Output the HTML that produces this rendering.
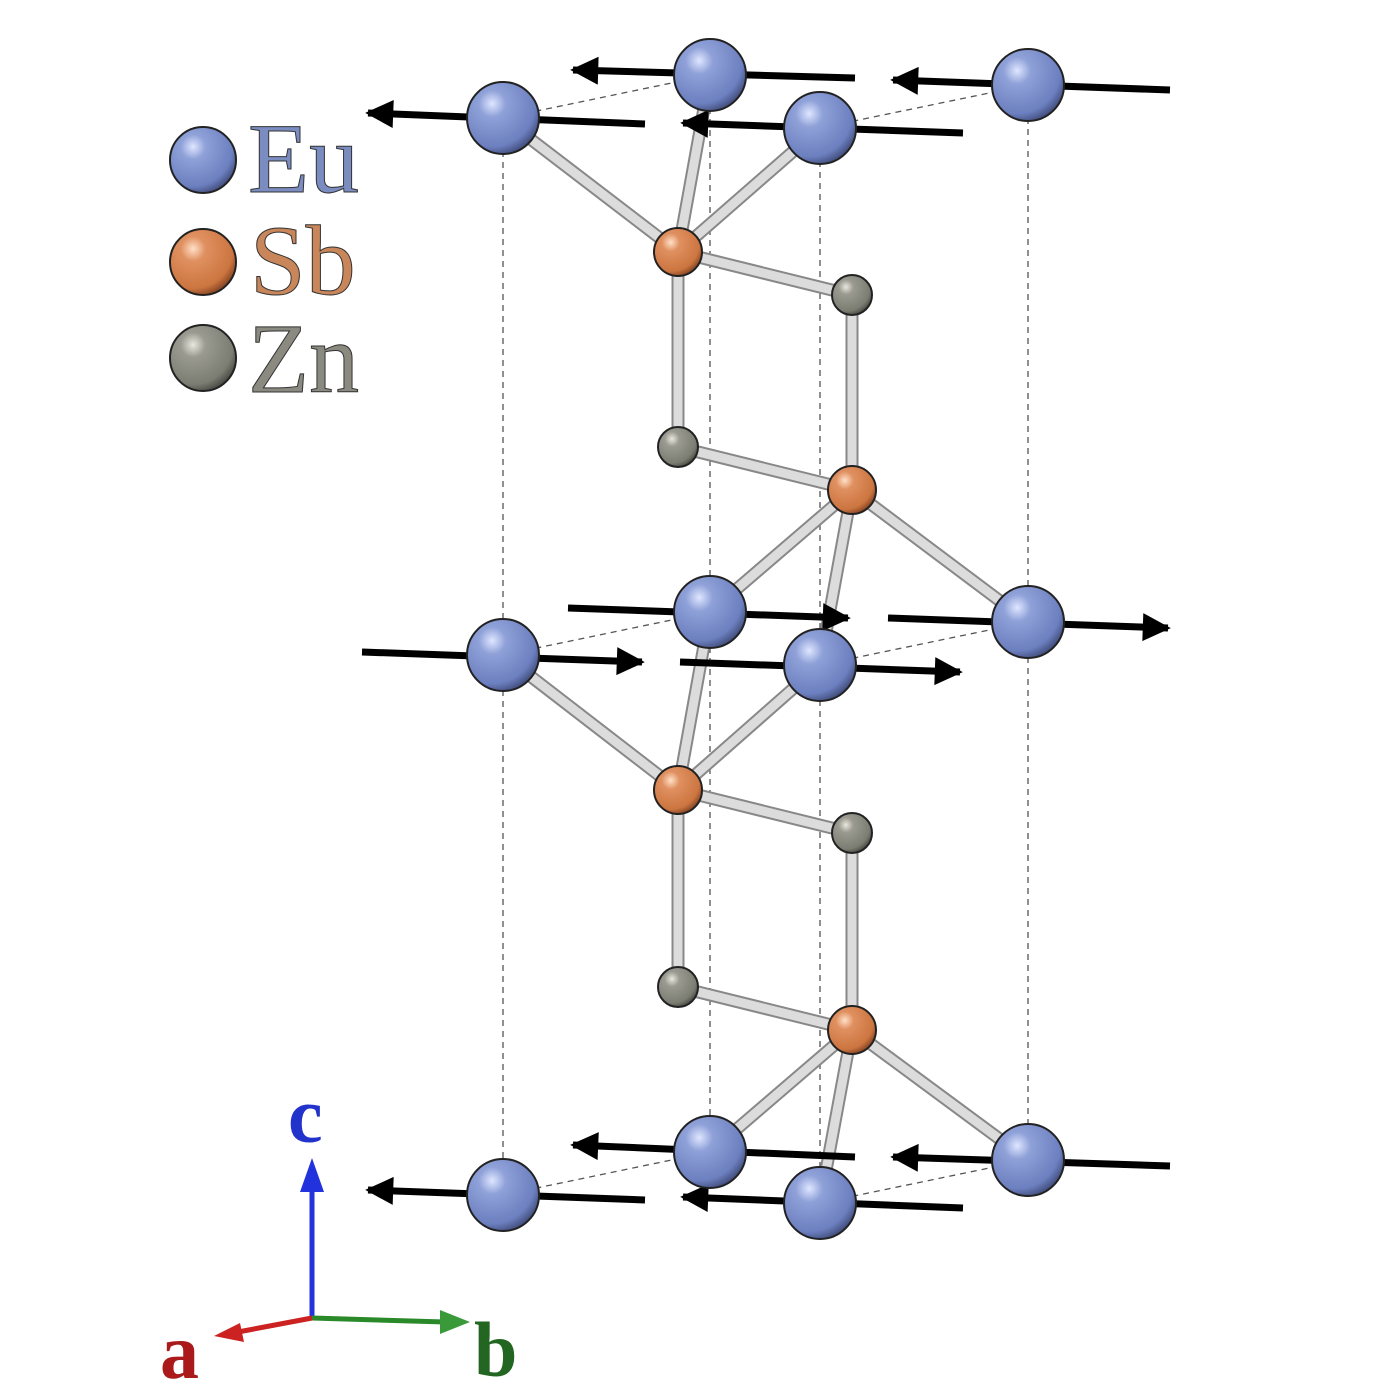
<!DOCTYPE html>
<html><head><meta charset="utf-8"><style>
html,body{margin:0;padding:0;background:#fff;}
svg{display:block;}
</style></head><body>
<svg width="1400" height="1400" viewBox="0 0 1400 1400" xmlns="http://www.w3.org/2000/svg">
<defs>
<radialGradient id="eu" cx="0.35" cy="0.3" r="0.75">
<stop offset="0" stop-color="#dfe6ff"/><stop offset="0.25" stop-color="#8fa1d8"/><stop offset="0.8" stop-color="#6c7fbf"/><stop offset="1" stop-color="#3e4a78"/></radialGradient>
<radialGradient id="sb" cx="0.35" cy="0.3" r="0.75">
<stop offset="0" stop-color="#ffe0c8"/><stop offset="0.25" stop-color="#e09060"/><stop offset="0.8" stop-color="#cc7540"/><stop offset="1" stop-color="#804020"/></radialGradient>
<radialGradient id="zn" cx="0.35" cy="0.3" r="0.75">
<stop offset="0" stop-color="#e8e8e0"/><stop offset="0.25" stop-color="#9a9a90"/><stop offset="0.8" stop-color="#7b7d72"/><stop offset="1" stop-color="#45463f"/></radialGradient>
<marker id="ah" viewBox="0 0 10 10" refX="9" refY="5" markerWidth="5" markerHeight="4" orient="auto" markerUnits="strokeWidth"><path d="M0,0 L10,5 L0,10 z" fill="#000"/></marker>
</defs>

<g stroke="#555" stroke-width="1.3" stroke-dasharray="6,5" fill="none">
<line x1="503" y1="118" x2="503" y2="1195"/>
<line x1="710" y1="75" x2="710" y2="1152"/>
<line x1="820" y1="128" x2="820" y2="1203"/>
<line x1="1028" y1="85" x2="1028" y2="1160"/>
<line x1="503" y1="118" x2="710" y2="75"/>
<line x1="820" y1="128" x2="1028" y2="85"/>
<line x1="503" y1="655" x2="710" y2="612"/>
<line x1="820" y1="665" x2="1028" y2="622"/>
<line x1="503" y1="1195" x2="710" y2="1152"/>
<line x1="820" y1="1203" x2="1028" y2="1160"/>
</g>

<g stroke-linecap="butt" fill="none">
<g stroke="#888" stroke-width="13">
<path d="M503,118 L678,252 M710,75 L678,252 M820,128 L678,252 M678,252 L852,295 L852,490 M678,252 L678,447 L852,490 M852,490 L710,612 M852,490 L820,665 M852,490 L1028,622"/>
<path d="M503,655 L678,790 M710,612 L678,790 M820,665 L678,790 M678,790 L852,833 L852,1030 M678,790 L678,987 L852,1030 M852,1030 L710,1152 M852,1030 L820,1203 M852,1030 L1028,1160"/>
</g>
<g stroke="#dcdcdc" stroke-width="9">
<path d="M503,118 L678,252 M710,75 L678,252 M820,128 L678,252 M678,252 L852,295 L852,490 M678,252 L678,447 L852,490 M852,490 L710,612 M852,490 L820,665 M852,490 L1028,622"/>
<path d="M503,655 L678,790 M710,612 L678,790 M820,665 L678,790 M678,790 L852,833 L852,1030 M678,790 L678,987 L852,1030 M852,1030 L710,1152 M852,1030 L820,1203 M852,1030 L1028,1160"/>
</g>
</g>

<g stroke="#000" stroke-width="7" marker-end="url(#ah)">
<line x1="645" y1="124" x2="368" y2="113"/>
<line x1="855" y1="78" x2="573" y2="70"/>
<line x1="963" y1="133" x2="683" y2="123"/>
<line x1="1170" y1="90" x2="893" y2="80"/>
<line x1="362" y1="652" x2="642" y2="662"/>
<line x1="568" y1="608" x2="848" y2="618"/>
<line x1="680" y1="662" x2="960" y2="672"/>
<line x1="888" y1="618" x2="1168" y2="628"/>
<line x1="645" y1="1200" x2="368" y2="1190"/>
<line x1="855" y1="1157" x2="573" y2="1145"/>
<line x1="963" y1="1208" x2="683" y2="1197"/>
<line x1="1170" y1="1166" x2="893" y2="1157"/>
</g>

<g stroke="#222" stroke-width="2">
<circle cx="503" cy="118" r="36" fill="url(#eu)"/>
<circle cx="710" cy="75" r="36" fill="url(#eu)"/>
<circle cx="820" cy="128" r="36" fill="url(#eu)"/>
<circle cx="1028" cy="85" r="36" fill="url(#eu)"/>
<circle cx="503" cy="655" r="36" fill="url(#eu)"/>
<circle cx="710" cy="612" r="36" fill="url(#eu)"/>
<circle cx="820" cy="665" r="36" fill="url(#eu)"/>
<circle cx="1028" cy="622" r="36" fill="url(#eu)"/>
<circle cx="503" cy="1195" r="36" fill="url(#eu)"/>
<circle cx="710" cy="1152" r="36" fill="url(#eu)"/>
<circle cx="820" cy="1203" r="36" fill="url(#eu)"/>
<circle cx="1028" cy="1160" r="36" fill="url(#eu)"/>
<circle cx="678" cy="252" r="24" fill="url(#sb)"/>
<circle cx="852" cy="490" r="24" fill="url(#sb)"/>
<circle cx="678" cy="790" r="24" fill="url(#sb)"/>
<circle cx="852" cy="1030" r="24" fill="url(#sb)"/>
<circle cx="852" cy="295" r="20" fill="url(#zn)"/>
<circle cx="678" cy="447" r="20" fill="url(#zn)"/>
<circle cx="852" cy="833" r="20" fill="url(#zn)"/>
<circle cx="678" cy="987" r="20" fill="url(#zn)"/>
<circle cx="203" cy="160" r="33" fill="url(#eu)"/>
<circle cx="203" cy="262" r="33" fill="url(#sb)"/>
<circle cx="203" cy="358" r="33" fill="url(#zn)"/>
</g>

<g font-family="Liberation Serif, serif" font-size="100" stroke="#333" stroke-width="1">
<text x="248" y="192" fill="#7b8cc0">Eu</text>
<text x="250" y="294" fill="#c8865a">Sb</text>
<text x="248" y="392" fill="#8a8a80">Zn</text>
</g>

<g stroke-width="5" fill="none">
<line x1="312" y1="1318" x2="312" y2="1185" stroke="#2233dd"/>
<line x1="312" y1="1318" x2="445" y2="1322" stroke="#2a8a2a"/>
<line x1="312" y1="1318" x2="238" y2="1332" stroke="#cc2222"/>
</g>
<path d="M312,1158 L300,1192 L324,1192 z" fill="#2233dd"/>
<path d="M470,1322 L440,1310 L440,1334 z" fill="#3a9a3a"/>
<path d="M214,1336 L240,1323 L244,1342 z" fill="#cc2222"/>
<g font-family="Liberation Serif, serif" font-weight="bold" font-size="78">
<text x="288" y="1142" fill="#2233cc">c</text>
<text x="474" y="1376" fill="#226622">b</text>
<text x="160" y="1378" fill="#aa1a1a">a</text>
</g>
</svg>
</body></html>
